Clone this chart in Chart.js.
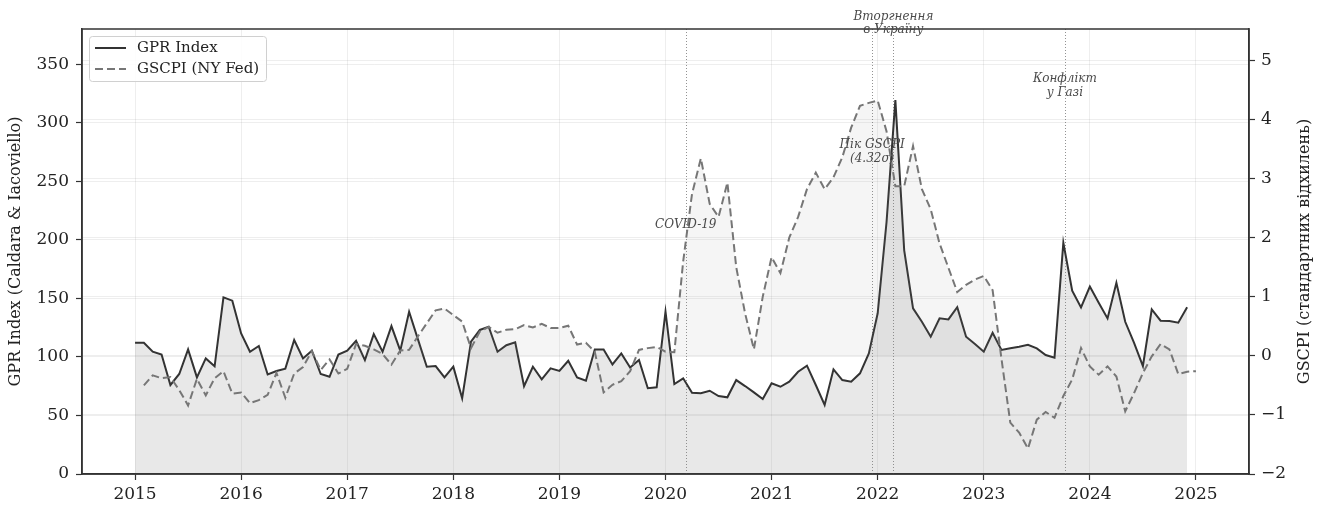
<!DOCTYPE html>
<html lang="uk">
<head>
<meta charset="utf-8">
<title>GPR Index vs GSCPI</title>
<script src="https://cdn.jsdelivr.net/npm/chart.js@4.4.1/dist/chart.umd.min.js"></script>
<style>
  html, body { margin: 0; padding: 0; background: #fff; }
  #wrap { width: 1322px; height: 506px; }
</style>
</head>
<body>
<div id="wrap"><canvas id="chart" width="1322" height="506"></canvas></div>
<script>
// Monthly series start dates
const gprStart = [2015, 1];
const gscpiStart = [2015, 2];

// Geopolitical Risk Index (Caldara & Iacoviello), monthly
const gprValues = [
  112, 112, 104.4, 102, 76, 85.4, 106.4, 82.5, 98.7, 92, 150.8, 148,
  120, 104.4, 109.3, 85, 88, 90, 114.4, 98.7, 105.3, 85.4, 83, 102,
  105.3, 113.8, 97.3, 119.5, 104.4, 126.3, 105.3, 138.6, 115, 91.6, 92.2, 82.5,
  91.6, 64.6, 113, 123, 125.8, 104.4, 110, 112.4, 75, 91.6, 80.8, 90.2,
  88, 96.7, 82.5, 79.7, 106.4, 106.4, 93.6, 103, 91, 97.3, 73.2, 74,
  138.6, 76.8, 81.7, 69.4, 68.9, 71.1, 66.6, 65.5, 80.2, 75.1, 69.7, 64,
  77.4, 74.5, 78.8, 87.3, 92.5, 76, 58.9, 89.4, 80.2, 78.8, 86, 103,
  137.2, 215, 319.3, 191, 141.4, 130, 117.2, 132.9, 132, 142.5, 117.2, 111,
  104.4, 120.6, 105.9, 107.3, 108.7, 110.4, 107.3, 101.6, 99.3, 197.5, 156.5, 142.3,
  160, 146.3, 132.9, 163.3, 130, 112, 92.2, 140.6, 130.9, 130.6, 129.2, 142.3
];

// Global Supply Chain Pressure Index (NY Fed), standard deviations
const gscpiValues = [
  -0.5, -0.33, -0.38, -0.36, -0.58, -0.84, -0.39, -0.67, -0.38, -0.26, -0.64,
  -0.62, -0.8, -0.75, -0.66, -0.29, -0.71, -0.3, -0.19, 0.08, -0.24, -0.06, -0.3,
  -0.22, 0.2, 0.17, 0.11, 0.03, -0.15, 0.09, 0.1, 0.33, 0.55, 0.77, 0.8,
  0.69, 0.58, 0.13, 0.41, 0.49, 0.39, 0.44, 0.45, 0.52, 0.48, 0.54, 0.47,
  0.47, 0.51, 0.19, 0.22, 0.07, -0.62, -0.49, -0.43, -0.26, 0.1, 0.13, 0.15,
  0.07, 0.06, 1.6, 2.74, 3.34, 2.57, 2.35, 2.93, 1.5, 0.72, 0.11, 1.0,
  1.67, 1.4, 2.0, 2.35, 2.82, 3.1, 2.82, 3.02, 3.36, 3.86, 4.23, 4.28,
  4.32, 3.8, 2.87, 2.87, 3.55, 2.82, 2.48, 1.9, 1.49, 1.08, 1.2, 1.29,
  1.35, 1.11, -0.05, -1.13, -1.3, -1.57, -1.08, -0.95, -1.05, -0.68, -0.4, 0.13,
  -0.18, -0.32, -0.18, -0.35, -0.94, -0.63, -0.29, -0.01, 0.2, 0.11, -0.31,
  -0.27, -0.26
];

// Axis ticks
const yearTicks = [2015, 2016, 2017, 2018, 2019, 2020, 2021, 2022, 2023, 2024, 2025];
const gprTicks = [0, 50, 100, 150, 200, 250, 300, 350];
const gscpiTicks = [-2, -1, 0, 1, 2, 3, 4, 5];

// Marked events
const eventDates = ['2020-03-11', '2021-12-13', '2022-02-24', '2023-10-07'];
const eventLabels = [
  ['COVID-19'],
  ['Пік GSCPI', '(4.32σ)'],
  ['Вторгнення', 'в Україну'],
  ['Конфлікт', 'у Газі']
];
// vertical placement of each event caption, in GPR units
const eventLabelLevels = [212.6, 275, 384.6, 331.5];

const FONT = '"DejaVu Serif", "Liberation Serif", serif';

function monthSeries(start, values) {
  return values.map((v, i) => ({ x: start[0] + (start[1] - 1) / 12 + i / 12, y: v }));
}

function dateToYear(s) {
  const [y, m, d] = s.split('-').map(Number);
  const t0 = Date.UTC(y, 0, 1);
  const t1 = Date.UTC(y + 1, 0, 1);
  return y + (Date.UTC(y, m - 1, d) - t0) / (t1 - t0);
}

function fmtMinus(v) {
  return String(v).replace('-', '\u2212');
}

const decorPlugin = {
  id: 'decor',
  beforeDatasetsDraw(chart) {
    const { ctx, chartArea: a, scales } = chart;
    ctx.save();
    ctx.strokeStyle = 'rgba(110,110,110,0.75)';
    ctx.lineWidth = 1;
    ctx.setLineDash([1, 2]);
    eventDates.forEach(d => {
      const x = Math.round(scales.x.getPixelForValue(dateToYear(d))) + 0.5;
      ctx.beginPath();
      ctx.moveTo(x, a.top);
      ctx.lineTo(x, a.bottom);
      ctx.stroke();
    });
    ctx.restore();
  },
  afterDatasetsDraw(chart) {
    const { ctx, chartArea: a } = chart;
    ctx.save();
    ctx.strokeStyle = '#333';
    ctx.lineWidth = 1.5;
    ctx.strokeRect(a.left, a.top, a.right - a.left, a.bottom - a.top);
    ctx.restore();
  },
  afterDraw(chart) {
    const { ctx, chartArea: a, scales } = chart;
    ctx.save();

    // event captions
    ctx.font = 'italic 12px ' + FONT;
    ctx.fillStyle = '#4a4a4a';
    ctx.textAlign = 'center';
    ctx.textBaseline = 'middle';
    eventDates.forEach((d, k) => {
      const x = scales.x.getPixelForValue(dateToYear(d));
      const yc = scales.y.getPixelForValue(eventLabelLevels[k]);
      const lines = eventLabels[k];
      const lh = 13.5;
      lines.forEach((t, j) => {
        ctx.fillText(t, x, yc + (j - (lines.length - 1) / 2) * lh);
      });
    });

    // legend
    const lx = a.left + 7, ly = a.top + 7, lw = 177, lhgt = 45;
    ctx.beginPath();
    if (ctx.roundRect) ctx.roundRect(lx + 0.5, ly + 0.5, lw, lhgt, 3);
    else ctx.rect(lx + 0.5, ly + 0.5, lw, lhgt);
    ctx.fillStyle = 'rgba(255,255,255,0.85)';
    ctx.fill();
    ctx.strokeStyle = '#d0d0d0';
    ctx.lineWidth = 1;
    ctx.stroke();

    const ds = chart.data.datasets;
    const rows = [ly + 12, ly + 33];
    ds.forEach((d, k) => {
      ctx.beginPath();
      ctx.setLineDash(d.borderDash || []);
      ctx.strokeStyle = d.borderColor;
      ctx.lineWidth = d.borderWidth;
      ctx.moveTo(lx + 6, rows[k]);
      ctx.lineTo(lx + 37, rows[k]);
      ctx.stroke();
      ctx.setLineDash([]);
      ctx.font = '15px ' + FONT;
      ctx.fillStyle = '#222';
      ctx.textAlign = 'left';
      ctx.textBaseline = 'middle';
      ctx.fillText(d.label, lx + 48, rows[k]);
    });

    // right axis title, reading bottom to top
    ctx.translate(1305, (a.top + a.bottom) / 2);
    ctx.rotate(-Math.PI / 2);
    ctx.font = '16px ' + FONT;
    ctx.fillStyle = '#222';
    ctx.textAlign = 'center';
    ctx.textBaseline = 'middle';
    ctx.fillText('GSCPI (стандартних відхилень)', 0, 0);
    ctx.restore();
  }
};

const gridColor = 'rgba(0,0,0,0.065)';
const tickFont = { family: FONT, size: 17 };

new Chart(document.getElementById('chart'), {
  type: 'line',
  data: {
    datasets: [
      {
        label: 'GPR Index',
        data: monthSeries(gprStart, gprValues),
        yAxisID: 'y',
        borderColor: '#333333',
        borderWidth: 2,
        pointRadius: 0,
        tension: 0,
        fill: { target: 'origin', above: 'rgba(128,128,128,0.18)', below: 'rgba(128,128,128,0.18)' },
        order: 2
      },
      {
        label: 'GSCPI (NY Fed)',
        data: monthSeries(gscpiStart, gscpiValues),
        yAxisID: 'y1',
        borderColor: '#767676',
        borderWidth: 2,
        borderDash: [8, 4],
        pointRadius: 0,
        tension: 0,
        fill: { target: 'origin', above: 'rgba(128,128,128,0.08)', below: 'rgba(0,0,0,0)' },
        order: 1
      }
    ]
  },
  options: {
    responsive: false,
    animation: false,
    devicePixelRatio: 1,
    layout: { padding: { top: 29, left: 0, right: 0, bottom: 0 } },
    plugins: { legend: { display: false }, tooltip: { enabled: false } },
    scales: {
      x: {
        type: 'linear',
        min: 2014.5,
        max: 2025.5,
        afterBuildTicks: s => { s.ticks = yearTicks.map(v => ({ value: v })); },
        afterFit: s => { s.height = 32; },
        ticks: { font: tickFont, color: '#222', padding: 4, maxRotation: 0, callback: v => String(v) },
        grid: { color: gridColor, tickColor: '#333', tickLength: 6, tickWidth: 1.2 },
        border: { display: true, color: '#333', width: 1.5 }
      },
      y: {
        type: 'linear',
        position: 'left',
        min: 0,
        max: 380,
        afterBuildTicks: s => { s.ticks = gprTicks.map(v => ({ value: v })); },
        afterFit: s => { s.width = 82; },
        ticks: { font: tickFont, color: '#222', padding: 7 },
        grid: { color: gridColor, tickColor: '#333', tickLength: 6, tickWidth: 1.2 },
        border: { display: true, color: '#333', width: 1.5 },
        title: {
          display: true,
          text: 'GPR Index (Caldara & Iacoviello)',
          font: { family: FONT, size: 16 },
          color: '#222',
          padding: { top: 6, bottom: 0 }
        }
      },
      y1: {
        type: 'linear',
        position: 'right',
        min: -2,
        max: 5.53,
        afterBuildTicks: s => { s.ticks = gscpiTicks.map(v => ({ value: v })); },
        afterFit: s => { s.width = 73; },
        ticks: { font: tickFont, color: '#222', padding: 6, callback: v => fmtMinus(v) },
        grid: { color: gridColor, tickColor: '#333', tickLength: 6, tickWidth: 1.2 },
        border: { display: true, color: '#333', width: 1.5 }
      }
    }
  },
  plugins: [decorPlugin]
});
</script>
</body>
</html>
